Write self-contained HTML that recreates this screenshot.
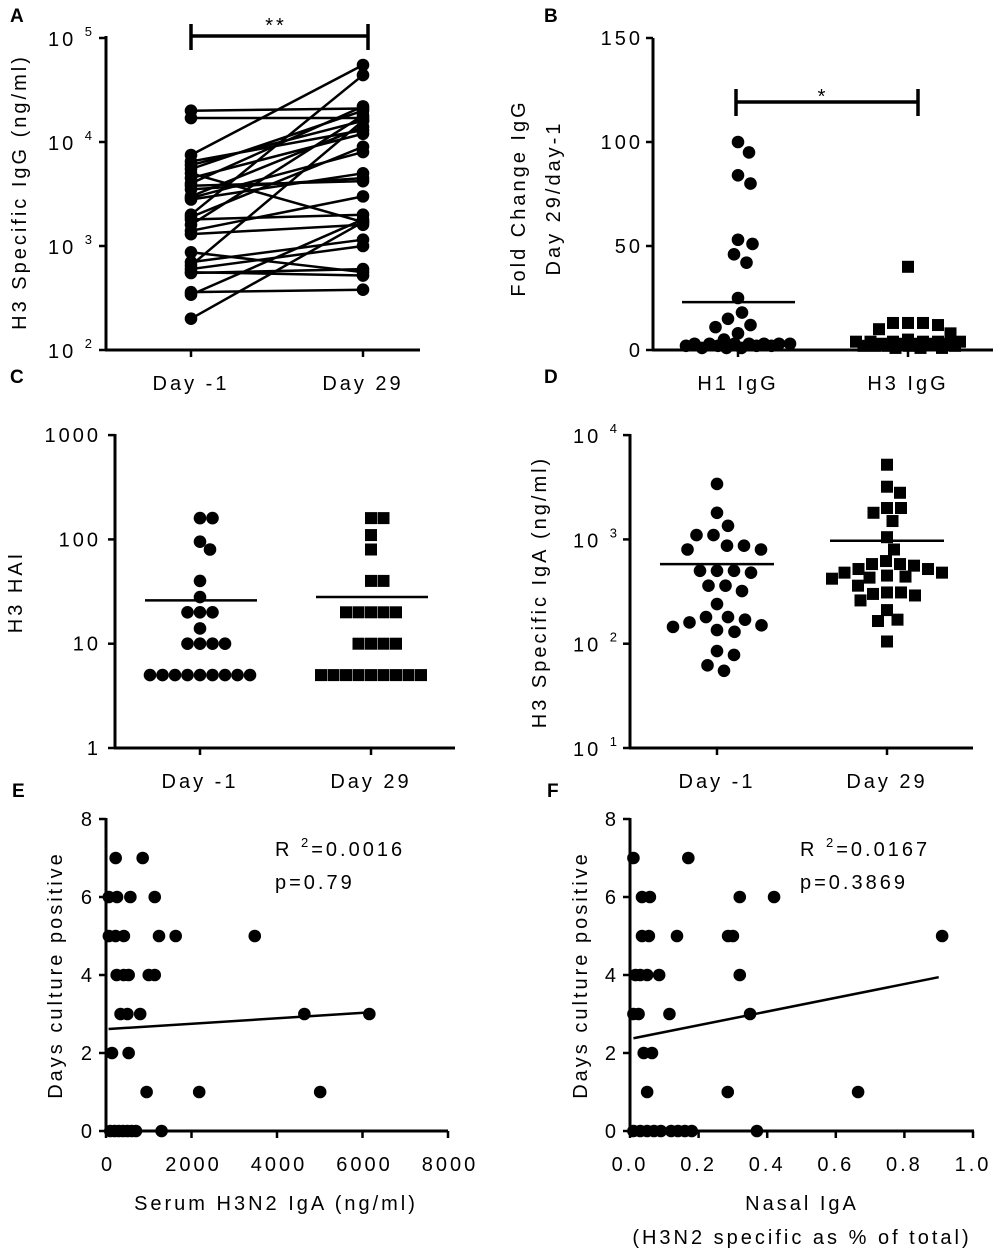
<!DOCTYPE html>
<html><head><meta charset="utf-8">
<style>
html,body{margin:0;padding:0;background:#fff;}
svg{display:block;font-family:"Liberation Sans",Arial,sans-serif;}
text{fill:#000;}
.tk{font-size:20px;letter-spacing:3px;}
.tt{font-size:20px;letter-spacing:3px;}
.pl{font-size:19px;font-weight:bold;}
</style></head>
<body>
<svg id="fig" width="1000" height="1253" viewBox="0 0 1000 1253" xmlns="http://www.w3.org/2000/svg"></svg>
<script>
// ---- Panel A data (paired, ng/ml) ----
const aDayM1 = [20000,17000,7500,6500,6000,5500,5000,4500,4000,3500,3000,2800,2000,1900,1800,1600,1400,1300,870,700,650,600,560,550,360,340,200,2900,3800];
const aDay29 = [21000,17000,55000,13000,16000,20000,1700,12000,22000,4500,14000,5000,44000,9000,2000,18000,3000,1600,560,1150,16000,1000,520,600,380,1800,1700,8000,4200];
const aCats = ["Day -1","Day 29"];
// ---- Panel B ----
const bH1 = [100,95,84,80,53,51,46,42,25,18,12,11,15,8,5,3,3,3,3,2,2,2,1,1,1,3,3,3,2];
const bH3 = [40,13,13,13,10,8,12,5,4,4,3,3,3,2,2,2,1,1,4,4,3,3,2,2,1,4,4];
const bMeans = [23,4];
const bCats = ["H1 IgG","H3 IgG"];
// ---- Panel C ----
const cDayM1 = [160,160,95,80,40,28,20,20,20,14,10,10,10,10,5,5,5,5,5,5,5,5,5];
const cDay29 = [160,160,110,80,40,40,20,20,20,20,20,10,10,10,10,5,5,5,5,5,5,5,5,5];
const cMeans = [26,28];
// ---- Panel D ----
const dDayM1 = [3400,1800,1350,1100,1100,870,800,800,870,500,500,480,500,360,320,360,240,180,170,150,135,130,145,160,180,78,85,55,62];
const dDay29 = [5200,3200,2800,2000,1800,2000,1500,1050,800,580,560,520,480,450,430,420,440,480,520,580,620,360,310,300,260,290,310,210,170,165,105];
const dMeans = [580,970];
// ---- Panel E ----
const eX = [226,858,67,258,570,1140,67,223,418,1240,1630,3480,250,418,530,1000,1140,340,500,800,4640,6160,140,530,950,2180,5010,100,200,300,400,500,600,700,1300];
const eY = [7,7,6,6,6,6,5,5,5,5,5,5,4,4,4,4,4,3,3,3,3,3,2,2,1,1,1,0,0,0,0,0,0,0,0];
const eFit = [2.61,0.00007];
const eXTicks = [0,2000,4000,6000,8000];
// ---- Panel F ----
const fX = [0.01,0.17,0.035,0.058,0.32,0.42,0.035,0.055,0.137,0.286,0.30,0.91,0.016,0.03,0.05,0.085,0.32,0.01,0.025,0.115,0.35,0.04,0.064,0.05,0.285,0.665,0.01,0.03,0.05,0.07,0.09,0.12,0.14,0.16,0.18,0.37];
const fY = [7,7,6,6,6,6,5,5,5,5,5,5,4,4,4,4,4,3,3,3,3,2,2,1,1,1,0,0,0,0,0,0,0,0,0,0];
const fFit = [2.36,1.76];
const fXTicks = [0,0.2,0.4,0.6,0.8,1.0];
const yTicksEF = [0,2,4,6,8];

const NS="http://www.w3.org/2000/svg";
const svg=document.getElementById('fig');
function el(tag,parent){const e=document.createElementNS(NS,tag);(parent||svg).appendChild(e);return e;}
function set(e,o){for(const k in o)e.setAttribute(k,o[k]);return e;}
function line(g,x1,y1,x2,y2,w){const l=el('line',g);set(l,{x1:x1,y1:y1,x2:x2,y2:y2,stroke:'#000','stroke-width':w||3});return l;}
function txt(g,x,y,s,cls,anchor){const t=el('text',g);set(t,{x:x,y:y,'class':cls||'tk','text-anchor':anchor||'middle'});t.textContent=s;return t;}
function pow10(g,x,y,e){const t=el('text',g);set(t,{x:x,y:y,'class':'tk','text-anchor':'end'});const a=el('tspan',t);a.textContent='10 ';const b=el('tspan',t);set(b,{dy:-10,'font-size':13});b.textContent=e;return t;}
function dot(g,x,y){const c=el('circle',g);set(c,{cx:x,cy:y,r:6.3,fill:'#000'});return c;}
function sq(g,x,y){const r=el('rect',g);set(r,{x:x-6,y:y-6,width:12,height:12,fill:'#000'});return r;}
// beeswarm with maximum half-width; overlaps allowed when row is full
function swarm(vals,cx,yf,d,maxW){
  const pts=[];const order=vals.map((v,i)=>i).sort((a,b)=>vals[b]-vals[a]);
  const xs=new Array(vals.length);
  for(const i of order){const y=yf(vals[i]);let best=0,bestD=-1,found=false;
    for(let k=0;;k++){const off=(k%2?1:-1)*Math.ceil(k/2)*0.5;
      if(Math.abs(off)>maxW)break;
      let md=Infinity;for(const p of pts){const dd=Math.hypot(p[0]-(cx+off),p[1]-y);if(dd<md)md=dd;}
      if(md>=d){best=off;found=true;break;}
      if(md>bestD){bestD=md;best=off;}}
    pts.push([cx+best,y]);xs[i]=cx+best;}
  return xs;}
function ytitle(g,x,y,s){const t=el('text',g);set(t,{x:0,y:0,'class':'tt','text-anchor':'middle',transform:'translate('+x+','+y+') rotate(-90)'});t.textContent=s;return t;}

// panel letters
const letters=[['A',10,22],['B',544,22],['C',10,383],['D',544,383],['E',12,797],['F',547,797]];
for(const L of letters){const t=txt(svg,L[1],L[2],L[0],'pl','start');

}

// ===== Panel A =====
const gA=el('g');


const yA=v=>350-(Math.log10(v)-2)*104;
const xA=[191,363];
line(gA,106,36,106,351);line(gA,105,350,420,350);
[2,3,4,5].forEach(e=>{const y=yA(Math.pow(10,e));line(gA,99,y,106,y,2.5);const t=pow10(gA,95,y+8,e);

});
aCats.forEach((c,i)=>{line(gA,xA[i],350,xA[i],357,2.5);const t=txt(gA,xA[i],390,c);

});
const ta=ytitle(gA,26,192,'H3 Specific IgG (ng/ml)');


aDayM1.forEach((v,i)=>{const l=line(gA,xA[0],yA(v),xA[1],yA(aDay29[i]),2.5);


const c1=dot(gA,xA[0],yA(v));


const c2=dot(gA,xA[1],yA(aDay29[i]));

});
line(gA,191,36,368,36,3.5);line(gA,191,24,191,50,3.5);line(gA,368,24,368,50,3.5);
const sA=txt(gA,276,32,'**','tt');



// ===== Panel B =====
const gB=el('g');


const yB=v=>350-v*2.08;
const xB=[738,908];
line(gB,653,38,653,351);line(gB,652,350,993,350);
[0,50,100,150].forEach(v=>{line(gB,646,yB(v),653,yB(v),2.5);const t=txt(gB,643,yB(v)+7,String(v),'tk','end');

});
bCats.forEach((c,i)=>{line(gB,xB[i],350,xB[i],357,2.5);const t=txt(gB,xB[i],390,c);

});
const tb1=ytitle(gB,525,198,'Fold Change IgG');


const tb2=ytitle(gB,560,198,'Day 29/day-1');


swarm(bH1,xB[0],yB,15,52).forEach((x,i)=>{const c=dot(gB,x,yB(bH1[i]));

});
swarm(bH3,xB[1],yB,15,52).forEach((x,i)=>{const c=sq(gB,x,yB(bH3[i]));

});
bMeans.forEach((m,i)=>{const l=line(gB,xB[i]-56,yB(m),xB[i]+57,yB(m),2.5);

});
line(gB,736,102,918,102,3.5);line(gB,736,89,736,116,3.5);line(gB,918,89,918,116,3.5);
const sB=txt(gB,823,103,'*','tt');



// ===== Panel C =====
const gC=el('g');


const yC=v=>748-Math.log10(v)*104.3;
const xC=[200,371];
line(gC,115,434,115,749);line(gC,114,748,455,748);
[1,10,100,1000].forEach(v=>{line(gC,108,yC(v),115,yC(v),2.5);const t=txt(gC,101,yC(v)+7,String(v),'tk','end');

});
aCats.forEach((c,i)=>{line(gC,xC[i],748,xC[i],755,2.5);const t=txt(gC,xC[i],788,c);

});
const tc=ytitle(gC,22,592,'H3 HAI');


swarm(cDayM1,xC[0],yC,12.4,55).forEach((x,i)=>{const c=dot(gC,x,yC(cDayM1[i]));

});
swarm(cDay29,xC[1],yC,12.4,55).forEach((x,i)=>{const c=sq(gC,x,yC(cDay29[i]));

});
cMeans.forEach((m,i)=>{const l=line(gC,xC[i]-55,yC(m),xC[i]+57,yC(m),2.5);

});

// ===== Panel D =====
const gD=el('g');


const yD=v=>748-(Math.log10(v)-1)*104.3;
const xD=[717,887];
line(gD,630,434,630,749);line(gD,629,748,973,748);
[1,2,3,4].forEach(e=>{const y=yD(Math.pow(10,e));line(gD,623,y,630,y,2.5);const t=pow10(gD,620,y+8,e);

});
aCats.forEach((c,i)=>{line(gD,xD[i],748,xD[i],755,2.5);const t=txt(gD,xD[i],788,c);

});
const td=ytitle(gD,546,592,'H3 Specific IgA (ng/ml)');


swarm(dDayM1,xD[0],yD,17,55).forEach((x,i)=>{const c=dot(gD,x,yD(dDayM1[i]));

});
swarm(dDay29,xD[1],yD,14,55).forEach((x,i)=>{const c=sq(gD,x,yD(dDay29[i]));

});
dMeans.forEach((m,i)=>{const l=line(gD,xD[i]-57,yD(m),xD[i]+57,yD(m),2.5);

});

// ===== Panel E =====
const gE=el('g');


const xE=v=>106+v*0.04275, yE=v=>1131-v*39;
line(gE,106,818,106,1132);line(gE,105,1131,448,1131);
yTicksEF.forEach(v=>{line(gE,99,yE(v),106,yE(v),2.5);const t=txt(gE,95,yE(v)+7,String(v),'tk','end');

});
eXTicks.forEach(v=>{line(gE,xE(v),1131,xE(v),1138,2.5);const t=txt(gE,xE(v)+2,1171,String(v));

});
const te=ytitle(gE,62,975,'Days culture positive');


const txe=txt(gE,276,1210,'Serum H3N2 IgA (ng/ml)','tt');


eX.forEach((v,i)=>{const c=dot(gE,xE(v),yE(eY[i]));

});
const fe=line(gE,xE(60),yE(eFit[0]+eFit[1]*60),xE(6160),yE(eFit[0]+eFit[1]*6160),2.5);


const re=el('text',gE);set(re,{x:275,y:856,'class':'tt'});
const re1=el('tspan',re);re1.textContent='R ';const re2=el('tspan',re);set(re2,{dy:-9,'font-size':13});re2.textContent='2';const re3=el('tspan',re);set(re3,{dy:9});re3.textContent='=0.0016';


const pe=txt(gE,275,889,'p=0.79','tt','start');



// ===== Panel F =====
const gF=el('g');


const xF=v=>630+v*343, yF=v=>1131-v*39;
line(gF,630,818,630,1132);line(gF,629,1131,974,1131);
yTicksEF.forEach(v=>{line(gF,623,yF(v),630,yF(v),2.5);const t=txt(gF,619,yF(v)+7,String(v),'tk','end');

});
fXTicks.forEach(v=>{line(gF,xF(v),1131,xF(v),1138,2.5);const t=txt(gF,xF(v),1171,v.toFixed(1));

});
const tf=ytitle(gF,587,975,'Days culture positive');


const txf=txt(gF,802,1210,'Nasal IgA','tt');


const txf2=txt(gF,802,1244,'(H3N2 specific as % of total)','tt');


fX.forEach((v,i)=>{const c=dot(gF,xF(v),yF(fY[i]));

});
const ff=line(gF,xF(0.01),yF(fFit[0]+fFit[1]*0.01),xF(0.9),yF(fFit[0]+fFit[1]*0.9),2.5);


const rf=el('text',gF);set(rf,{x:800,y:856,'class':'tt'});
const rf1=el('tspan',rf);rf1.textContent='R ';const rf2=el('tspan',rf);set(rf2,{dy:-9,'font-size':13});rf2.textContent='2';const rf3=el('tspan',rf);set(rf3,{dy:9});rf3.textContent='=0.0167';


const pf=txt(gF,800,889,'p=0.3869','tt','start');


</script>
</body></html>
